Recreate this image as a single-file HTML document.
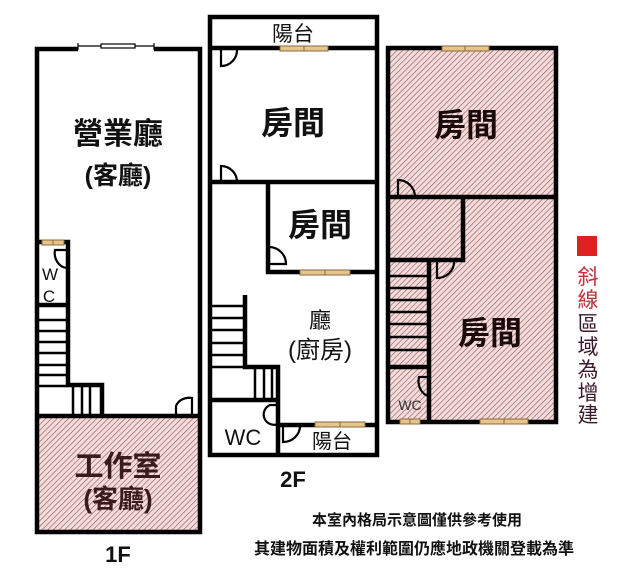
<!DOCTYPE html>
<html><head><meta charset="utf-8"><style>
html,body{margin:0;padding:0;background:#fff;}
svg{display:block;}
text{font-family:"Liberation Sans","Noto Sans CJK TC",sans-serif;}
</style></head><body>
<svg width="627" height="585" viewBox="0 0 627 585" xmlns="http://www.w3.org/2000/svg">
<defs>
<pattern id="h" width="4" height="4" patternUnits="userSpaceOnUse" patternTransform="rotate(45)">
<rect width="4" height="4" fill="#f3dcdc"/>
<line x1="0" y1="0" x2="0" y2="4" stroke="#9a5a5a" stroke-width="1.3"/>
</pattern>
</defs>
<g fill="none" stroke="#000" stroke-width="4.5">
<!-- 1F -->
<rect x="37" y="418" width="163" height="114" fill="url(#h)" stroke="none"/>
<path d="M78 49 H37 V532 H200 V49 H154"/>
<line x1="37" y1="416" x2="200" y2="416"/>
<path d="M37 242 H68 V385 H102 V416"/>
<line x1="37" y1="305" x2="68" y2="305"/>
</g>
<g stroke="#000" stroke-width="2.5">
<line x1="37" y1="320" x2="68" y2="320"/><line x1="37" y1="331" x2="68" y2="331"/>
<line x1="37" y1="342" x2="68" y2="342"/><line x1="37" y1="353" x2="68" y2="353"/>
<line x1="37" y1="365" x2="68" y2="365"/><line x1="37" y1="375" x2="68" y2="375"/>
<line x1="37" y1="386" x2="68" y2="386"/>
<line x1="73" y1="386" x2="73" y2="416"/><line x1="82" y1="386" x2="82" y2="416"/><line x1="90" y1="386" x2="90" y2="416"/>
</g>
<g stroke="#000" stroke-width="1.2" fill="#fff">
<line x1="78" y1="46" x2="154" y2="46"/><line x1="78" y1="43" x2="78" y2="50"/><line x1="154" y1="43" x2="154" y2="50"/>
<rect x="101" y="44" width="34" height="4"/>
</g>
<g fill="none" stroke="#000" stroke-width="2.2">
<path d="M68 250 H55 A13 15 0 0 0 68 268"/>
<path d="M176 416 V406 A14 12 0 0 1 192 398 V416"/>
</g>
<!-- 2F -->
<g fill="none" stroke="#000" stroke-width="4.5">
<rect x="210" y="17" width="167" height="438"/>
<line x1="210" y1="48" x2="377" y2="48"/>
<line x1="210" y1="182" x2="377" y2="182"/>
<path d="M268 182 V272 H377"/>
<path d="M245 295 V367 H278 V455"/>
<line x1="210" y1="400" x2="278" y2="400"/>
<line x1="278" y1="425" x2="377" y2="425"/>
</g>
<g stroke="#000" stroke-width="2.5">
<line x1="210" y1="306" x2="245" y2="306"/><line x1="210" y1="318" x2="245" y2="318"/>
<line x1="210" y1="330" x2="245" y2="330"/><line x1="210" y1="343" x2="245" y2="343"/>
<line x1="210" y1="355" x2="245" y2="355"/><line x1="210" y1="367" x2="245" y2="367"/>
<line x1="255" y1="367" x2="255" y2="400"/><line x1="264" y1="367" x2="264" y2="400"/><line x1="272" y1="367" x2="272" y2="400"/>
</g>
<g fill="none" stroke="#000" stroke-width="2.2">
<path d="M221 49 V66 A16 16 0 0 0 237 49"/>
<path d="M221 182 V166 A16 16 0 0 1 237 182"/>
<path d="M269 264 V247 A17 17 0 0 1 286 264 Z"/>
<path d="M278 405 H270 A10 10 0 0 0 278 424"/>
<path d="M283 426 V442 A17 16 0 0 0 300 426"/>
</g>
<!-- 3F -->
<g fill="none" stroke="#000" stroke-width="4.5">
<rect x="388" y="48" width="168" height="374" fill="url(#h)"/>
<line x1="388" y1="197" x2="556" y2="197"/>
<path d="M388 260 H463 V197"/>
<line x1="429" y1="260" x2="429" y2="422"/>
<line x1="388" y1="367" x2="429" y2="367"/>
</g>
<g stroke="#000" stroke-width="2.5">
<line x1="388" y1="276" x2="429" y2="276"/><line x1="388" y1="288" x2="429" y2="288"/>
<line x1="388" y1="300" x2="429" y2="300"/><line x1="388" y1="312" x2="429" y2="312"/>
<line x1="388" y1="324" x2="429" y2="324"/><line x1="388" y1="337" x2="429" y2="337"/>
<line x1="388" y1="350" x2="429" y2="350"/>
</g>
<g fill="none" stroke="#000" stroke-width="2.2">
<path d="M398 197 V180 A17 17 0 0 1 415 197"/>
<path d="M437 262 V278 A17 16 0 0 0 454 262"/>
<path d="M429 377 H419 A12 15 0 0 0 429 396"/>
</g>
<!-- windows -->
<g fill="#e6c48a" stroke="#8a6a3a" stroke-width="1">
<rect x="42" y="240" width="22" height="5"/><line x1="53" y1="240" x2="53" y2="245"/>
<rect x="280" y="46" width="48" height="5"/><line x1="304" y1="46" x2="304" y2="51"/>
<rect x="300" y="270" width="50" height="5"/><line x1="325" y1="270" x2="325" y2="275"/>
<rect x="315" y="422" width="50" height="5"/><line x1="340" y1="422" x2="340" y2="427"/>
<rect x="442" y="46" width="47" height="5"/><line x1="465" y1="46" x2="465" y2="51"/>
<rect x="400" y="419" width="20" height="5"/><line x1="410" y1="419" x2="410" y2="424"/>
<rect x="480" y="419" width="48" height="5"/><line x1="504" y1="419" x2="504" y2="424"/>
</g>
<!-- labels -->
<g text-anchor="middle" fill="#111" font-weight="bold">
<text x="118" y="144" font-size="30">營業廳</text>
<text x="118" y="184" font-size="25">(客廳)</text>
<text x="50" y="280" font-size="17" font-weight="normal">W</text>
<text x="49" y="302" font-size="17" font-weight="normal">C</text>
<text x="118" y="476" font-size="29" fill="#3a1a1a">工作室</text>
<text x="118" y="508" font-size="26" fill="#3a1a1a">(客廳)</text>
<text x="118" y="562" font-size="22">1F</text>
<text x="293" y="41" font-size="21" font-weight="normal">陽台</text>
<text x="293" y="134" font-size="32">房間</text>
<text x="320" y="236" font-size="32">房間</text>
<text x="320" y="328" font-size="22" font-weight="normal">廳</text>
<text x="320" y="358" font-size="24" font-weight="normal">(廚房)</text>
<text x="243" y="445" font-size="22" font-weight="normal">WC</text>
<text x="332" y="448" font-size="20" font-weight="normal">陽台</text>
<text x="293" y="487" font-size="22">2F</text>
<text x="466" y="136" font-size="32" fill="#1a0a0a">房間</text>
<text x="490" y="344" font-size="32" fill="#1a0a0a">房間</text>
<text x="410" y="410" font-size="14" fill="#333" font-weight="normal">WC</text>
<text x="417" y="525" font-size="15">本室內格局示意圖僅供參考使用</text>
<text x="414" y="554" font-size="16">其建物面積及權利範圍仍應地政機關登載為準</text>
</g>
<rect x="577" y="236" width="20" height="20" fill="#e02020"/>
<g text-anchor="middle" font-size="21">
<text x="588" y="284" fill="#c0303a">斜</text>
<text x="588" y="307" fill="#c0303a">線</text>
<text x="588" y="331" fill="#3a1a2a">區</text>
<text x="588" y="354" fill="#3a1a2a">域</text>
<text x="588" y="377" fill="#3a1a2a">為</text>
<text x="588" y="400" fill="#3a1a2a">增</text>
<text x="588" y="422" fill="#3a1a2a">建</text>
</g>
</svg>
</body></html>
